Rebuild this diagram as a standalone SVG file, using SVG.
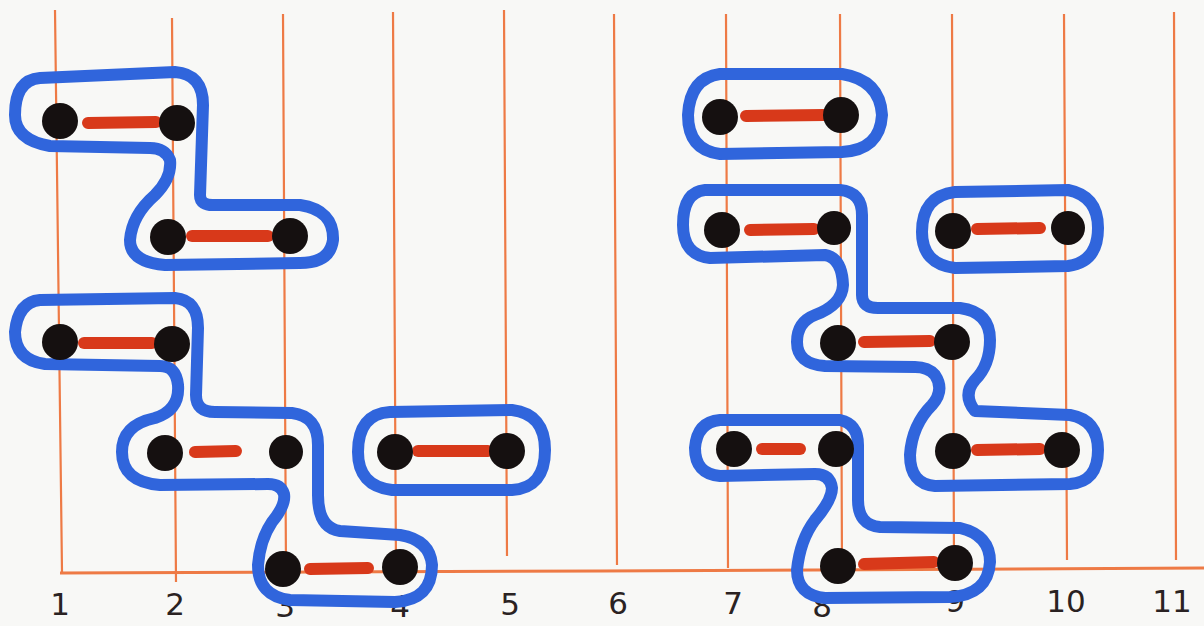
<svg xmlns="http://www.w3.org/2000/svg" width="1204" height="626" viewBox="0 0 1204 626">
<style>
.bg{fill:#f8f8f6}
.grid{stroke:#ee7a45;stroke-width:2.2;fill:none}
.base{stroke:#ee7a45;stroke-width:3;fill:none}
.blob{fill:none;stroke:#3065dc;stroke-width:12;stroke-linejoin:round;stroke-linecap:round}
.dot{fill:#151010}
.bar{stroke:#d8391a;stroke-width:12;stroke-linecap:round}
.lbl{font-family:"DejaVu Sans",sans-serif;font-size:31px;fill:#2a2222;text-anchor:middle}
</style>
<rect class="bg" x="0" y="0" width="1204" height="626"/>
<g id="grid">
<path class="grid" d="M55,10 L62,572 M172,18 L176,582 M283,14 L286,572 M393,12 L396,572 M504,10 L507,556 M614,14 L617,565 M726,14 L728,568 M840,14 L842,572 M952,14 L954,566 M1064,14 L1067,560 M1174,12 L1176,560"/>
<path class="base" d="M60,573 L600,571 L1204,568"/>
</g>
<g id="labels">
<text class="lbl" x="60" y="615">1</text>
<text class="lbl" x="175" y="615">2</text>
<text class="lbl" x="285" y="617">3</text>
<text class="lbl" x="400" y="617">4</text>
<text class="lbl" x="510" y="615">5</text>
<text class="lbl" x="618" y="614">6</text>
<text class="lbl" x="733" y="614">7</text>
<text class="lbl" x="822" y="617">8</text>
<text class="lbl" x="955" y="612">9</text>
<text class="lbl" x="1066" y="612">10</text>
<text class="lbl" x="1172" y="612">11</text>
</g>
<g id="connectors">
<line class="bar" x1="88" y1="123" x2="156" y2="122"/>
<line class="bar" x1="192" y1="236" x2="268" y2="236"/>
<line class="bar" x1="84" y1="343" x2="152" y2="343"/>
<line class="bar" x1="195" y1="452" x2="236" y2="451"/>
<line class="bar" x1="310" y1="569" x2="368" y2="568"/>
<line class="bar" x1="418" y1="451" x2="488" y2="451"/>
<line class="bar" x1="746" y1="116" x2="824" y2="115"/>
<line class="bar" x1="750" y1="230" x2="814" y2="229"/>
<line class="bar" x1="977" y1="229" x2="1040" y2="228"/>
<line class="bar" x1="864" y1="342" x2="930" y2="341"/>
<line class="bar" x1="762" y1="449" x2="800" y2="449"/>
<line class="bar" x1="977" y1="450" x2="1040" y2="449"/>
<line class="bar" x1="864" y1="564" x2="934" y2="562"/>
</g>
<g id="groupA">
<path class="blob" d="M40,78 L175,72 Q203,74 203,105 L200,195 Q200,206 215,205 L300,205 Q334,210 333,240 Q330,263 300,263 L165,265 Q130,262 130,240 Q132,215 155,195 Q172,178 170,160 Q165,148 150,148 L50,146 Q15,140 15,115 Q15,80 40,78 Z"/>
<circle class="dot" cx="60" cy="121" r="18"/>
<circle class="dot" cx="177" cy="123" r="18"/>
<circle class="dot" cx="168" cy="237" r="18"/>
<circle class="dot" cx="290" cy="236" r="18"/>
</g>
<g id="groupB">
<path class="blob" d="M40,300 L175,298 Q198,300 198,328 L196,395 Q196,412 215,412 L292,413 Q318,416 318,445 L318,495 Q318,528 340,531 L400,535 Q430,540 432,565 Q432,600 395,602 L290,600 Q258,596 258,565 Q260,540 272,522 Q286,505 284,494 Q281,484 268,484 L160,485 Q122,482 122,452 Q122,425 155,418 Q180,410 178,385 Q176,366 160,366 L45,364 Q15,360 15,332 Q18,302 40,300 Z"/>
<circle class="dot" cx="60" cy="342" r="18"/>
<circle class="dot" cx="172" cy="344" r="18"/>
<circle class="dot" cx="165" cy="453" r="18"/>
<circle class="dot" cx="286" cy="452" r="17"/>
<circle class="dot" cx="283" cy="569" r="18"/>
<circle class="dot" cx="400" cy="567" r="18"/>
</g>
<g id="groupC">
<path class="blob" d="M390,412 L512,410 Q545,414 545,450 Q545,488 512,490 L392,490 Q358,486 358,452 Q358,414 390,412 Z"/>
<circle class="dot" cx="395" cy="452" r="18"/>
<circle class="dot" cx="507" cy="451" r="18"/>
</g>
<g id="groupD">
<path class="blob" d="M720,74 L842,74 Q880,80 882,115 Q880,150 842,152 L720,154 Q688,150 688,115 Q690,78 720,74 Z"/>
<circle class="dot" cx="720" cy="117" r="18"/>
<circle class="dot" cx="841" cy="115" r="18"/>
</g>
<g id="groupE">
<path class="blob" d="M705,190 L840,190 Q862,192 862,215 L862,295 Q862,308 878,308 L960,308 Q990,312 990,340 Q990,365 975,380 Q962,395 975,411 L1070,415 Q1098,420 1098,450 Q1098,482 1070,484 L935,486 Q910,484 910,455 Q912,425 932,405 Q945,390 935,375 Q928,367 915,367 L825,366 Q797,364 797,342 Q797,322 815,315 Q842,305 843,285 Q842,258 825,255 L710,258 Q683,255 683,225 Q683,192 705,190 Z"/>
<circle class="dot" cx="722" cy="230" r="18"/>
<circle class="dot" cx="834" cy="228" r="17"/>
<circle class="dot" cx="838" cy="343" r="18"/>
<circle class="dot" cx="952" cy="342" r="18"/>
<circle class="dot" cx="953" cy="451" r="18"/>
<circle class="dot" cx="1062" cy="450" r="18"/>
</g>
<g id="groupF">
<path class="blob" d="M955,192 L1068,190 Q1098,196 1098,228 Q1098,262 1068,266 L955,268 Q922,264 922,232 Q922,196 955,192 Z"/>
<circle class="dot" cx="953" cy="231" r="18"/>
<circle class="dot" cx="1068" cy="228" r="17"/>
</g>
<g id="groupG">
<path class="blob" d="M720,420 L840,420 Q858,424 858,445 L858,500 Q858,525 880,527 L960,528 Q990,535 990,562 Q988,595 950,597 L825,598 Q797,595 797,570 Q800,540 815,520 Q832,500 832,488 Q830,474 815,474 L720,476 Q695,474 695,448 Q697,422 720,420 Z"/>
<circle class="dot" cx="734" cy="449" r="18"/>
<circle class="dot" cx="836" cy="449" r="18"/>
<circle class="dot" cx="838" cy="566" r="18"/>
<circle class="dot" cx="955" cy="563" r="18"/>
</g>
</svg>
